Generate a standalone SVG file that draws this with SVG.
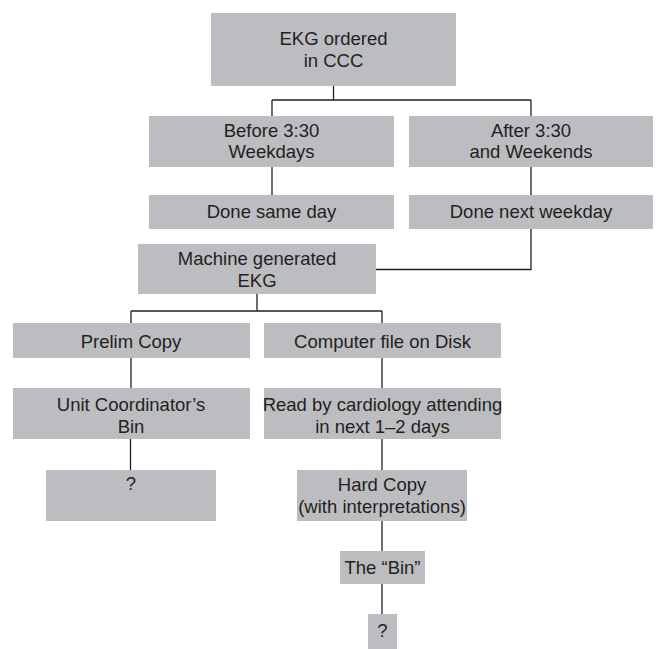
<svg xmlns="http://www.w3.org/2000/svg" width="658" height="649" viewBox="0 0 658 649">
<style>
.box{fill:#bcbdc0;}
.t{font-family:"Liberation Sans",Arial,sans-serif;font-size:18.5px;fill:#231f20;text-anchor:middle;}
.c{fill:none;stroke:#231f20;stroke-width:1.3;}
</style>
<rect width="658" height="649" fill="#ffffff"/>
<g id="connectors" class="c">
<path d="M333.5 86 V100 M272 100 H531 M272 100 V116 M531 100 V116"/>
<path d="M272 167 V195"/>
<path d="M531 167 V195"/>
<path d="M531 228 V269.5 H376"/>
<path d="M257 294 V311 M131 311 H382 M131 311 V323 M382 311 V323"/>
<path d="M131 358 V388"/>
<path d="M382 358 V388"/>
<path d="M130.5 439 V470"/>
<path d="M382 439 V470"/>
<path d="M382 521 V551"/>
<path d="M382 584 V614"/>
</g>
<g id="n1"><rect class="box" x="211" y="13" width="245" height="73"/><text class="t" x="333.5" y="44.5">EKG ordered</text><text class="t" x="333.5" y="66.5">in CCC</text></g>
<g id="n2"><rect class="box" x="149" y="116" width="245" height="51"/><text class="t" x="271.5" y="137">Before 3:30</text><text class="t" x="271.5" y="158">Weekdays</text></g>
<g id="n3"><rect class="box" x="409" y="116" width="244" height="51"/><text class="t" x="531" y="137">After 3:30</text><text class="t" x="531" y="158">and Weekends</text></g>
<g id="n4"><rect class="box" x="149" y="195" width="245" height="34"/><text class="t" x="271.5" y="218">Done same day</text></g>
<g id="n5"><rect class="box" x="409" y="195" width="244" height="34"/><text class="t" x="531" y="218">Done next weekday</text></g>
<g id="n6"><rect class="box" x="138" y="244" width="238" height="50"/><text class="t" x="257" y="265">Machine generated</text><text class="t" x="257" y="287">EKG</text></g>
<g id="n7"><rect class="box" x="13" y="323" width="237" height="35"/><text class="t" x="131" y="348">Prelim Copy</text></g>
<g id="n8"><rect class="box" x="264" y="323" width="237" height="35"/><text class="t" x="382.5" y="348">Computer file on Disk</text></g>
<g id="n9"><rect class="box" x="13" y="388" width="237" height="51"/><text class="t" x="131" y="411">Unit Coordinator’s</text><text class="t" x="131" y="433">Bin</text></g>
<g id="n10"><rect class="box" x="264" y="388" width="237" height="51"/><text class="t" x="382.5" y="411">Read by cardiology attending</text><text class="t" x="382.5" y="433">in next 1–2 days</text></g>
<g id="n11"><rect class="box" x="46" y="470" width="170" height="51"/><text class="t" x="131" y="490">?</text></g>
<g id="n12"><rect class="box" x="297" y="470" width="170" height="51"/><text class="t" x="382" y="491">Hard Copy</text><text class="t" x="382" y="513">(with interpretations)</text></g>
<g id="n13"><rect class="box" x="340" y="551" width="85" height="33"/><text class="t" x="382.5" y="574">The “Bin”</text></g>
<g id="n14"><rect class="box" x="368" y="614" width="29" height="35"/><text class="t" x="382.5" y="637">?</text></g>
</svg>
